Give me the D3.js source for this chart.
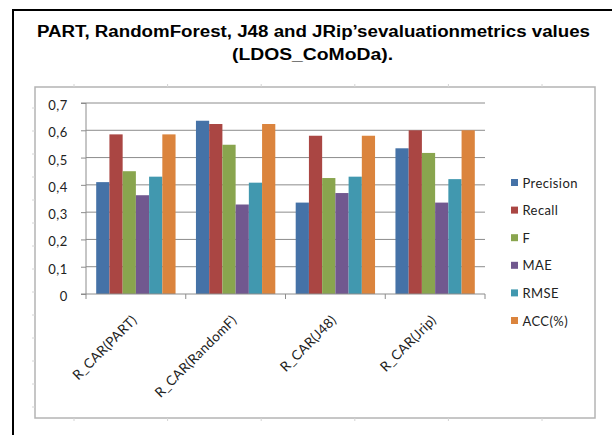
<!DOCTYPE html>
<html>
<head>
<meta charset="utf-8">
<script src="https://cdn.jsdelivr.net/npm/d3@7"></script>
<style>
  html, body { margin: 0; padding: 0; background: #fff; }
  svg { display: block; }
</style>
</head>
<body>
<svg id="chart" width="612" height="435"></svg>
<script>
// ---- data ----
const categories = ["R_CAR(PART)", "R_CAR(RandomF)", "R_CAR(J48)", "R_CAR(Jrip)"];
const seriesNames = ["Precision", "Recall", "F", "MAE", "RMSE", "ACC(%)"];
const precision = [0.41, 0.635, 0.335, 0.534];
const recall    = [0.585, 0.623, 0.58, 0.60];
const fValues   = [0.45, 0.547, 0.425, 0.517];
const mae       = [0.362, 0.328, 0.37, 0.335];
const rmse      = [0.43, 0.408, 0.43, 0.421];
const acc       = [0.585, 0.623, 0.58, 0.60];
const yTicks = [0, 0.1, 0.2, 0.3, 0.4, 0.5, 0.6, 0.7];
const yTickLabels = ["0", "0,1", "0,2", "0,3", "0,4", "0,5", "0,6", "0,7"];
const colors = ["#4572A7", "#AA4643", "#89A54E", "#71588F", "#4198AF", "#DB843D"];

const seriesValues = [precision, recall, fValues, mae, rmse, acc];

// ---- layout ----
const svg = d3.select("#chart");
const plot = { left: 86, right: 485, top: 103, bottom: 294 };
const axisFont = "Lato, 'Open Sans', sans-serif";

// outer black box (only left and top edges visible)
svg.append("line").attr("x1", 13).attr("y1", 10).attr("x2", 13).attr("y2", 435)
  .attr("stroke", "#000").attr("stroke-width", 2);
svg.append("line").attr("x1", 12).attr("y1", 10).attr("x2", 612).attr("y2", 10)
  .attr("stroke", "#000").attr("stroke-width", 2);

// title
const title = svg.append("g")
  .attr("font-family", "'Liberation Sans', Arial, sans-serif")
  .attr("font-weight", "bold")
  .attr("font-size", 16)
  .attr("fill", "#000");
title.append("text").attr("x", 37).attr("y", 37)
  .attr("textLength", 553).attr("lengthAdjust", "spacingAndGlyphs")
  .text("PART, RandomForest, J48 and JRip\u2019sevaluationmetrics values");
title.append("text").attr("x", 232).attr("y", 59.5)
  .attr("textLength", 161).attr("lengthAdjust", "spacingAndGlyphs")
  .text("(LDOS_CoMoDa).");

// inner chart frame
svg.append("rect").attr("x", 35).attr("y", 87).attr("width", 560).attr("height", 331)
  .attr("fill", "none").attr("stroke", "#b4b4b4").attr("stroke-width", 1.5);

// faint worksheet tick marks around frame
const deco = svg.append("g").attr("stroke", "#d4d4d4").attr("stroke-width", 1);
d3.range(6).forEach(i => {
  const x = 74 + i * 93.6;
  deco.append("line").attr("x1", x).attr("x2", x).attr("y1", 84).attr("y2", 87);
  deco.append("line").attr("x1", x).attr("x2", x).attr("y1", 418).attr("y2", 421);
});
d3.range(14).forEach(i => {
  const y = 108 + i * 23;
  deco.append("line").attr("x1", 32).attr("x2", 35).attr("y1", y).attr("y2", y);
});

// scales
const y = d3.scaleLinear().domain([0, 0.7]).range([plot.bottom, plot.top]);
const x0 = d3.scaleBand().domain(categories).range([plot.left, plot.right]).paddingInner(0).paddingOuter(0);
const groupPad = 10.2;
const x1 = d3.scaleBand().domain(seriesNames).range([groupPad, x0.bandwidth() - groupPad]).padding(0);

// gridlines
svg.append("g").selectAll("line").data(yTicks.slice(1)).join("line")
  .attr("x1", plot.left).attr("x2", plot.right)
  .attr("y1", d => y(d)).attr("y2", d => y(d))
  .attr("stroke", "#8c8c8c").attr("stroke-width", 1);

// bars
const groups = svg.append("g").selectAll("g").data(categories).join("g")
  .attr("transform", d => `translate(${x0(d)},0)`);
groups.selectAll("rect")
  .data((c, ci) => seriesNames.map((s, si) => ({ s, si, v: seriesValues[si][ci] })))
  .join("rect")
  .attr("x", d => x1(d.s))
  .attr("width", x1.bandwidth())
  .attr("y", d => y(d.v))
  .attr("height", d => y(0) - y(d.v))
  .attr("fill", d => colors[d.si]);

// y axis
const yAxis = d3.axisLeft(y).tickValues(yTicks)
  .tickFormat((d, i) => yTickLabels[i]).tickSize(5).tickPadding(13);
const gy = svg.append("g").attr("transform", `translate(${plot.left},0)`).call(yAxis);
gy.select(".domain").attr("stroke", "#8c8c8c").attr("d", `M-5,${plot.bottom}H0V${plot.top}H-5`);
gy.selectAll(".tick line").attr("stroke", "#8c8c8c");
gy.selectAll(".tick text").attr("font-family", axisFont).attr("font-size", 13)
  .attr("letter-spacing", 0.6).attr("dy", "0.5em").attr("fill", "#222");

// x axis
const boundaries = categories.map(c => x0(c)).concat([plot.right]);
const gx = svg.append("g");
gx.append("line").attr("x1", plot.left).attr("x2", plot.right)
  .attr("y1", plot.bottom).attr("y2", plot.bottom).attr("stroke", "#8c8c8c");
gx.selectAll("line.tk").data(boundaries).join("line").attr("class", "tk")
  .attr("x1", d => d).attr("x2", d => d)
  .attr("y1", plot.bottom).attr("y2", plot.bottom + 5).attr("stroke", "#8c8c8c");
gx.selectAll("text").data(categories).join("text")
  .attr("transform", d => `translate(${x0(d) + x0.bandwidth() / 2 + 2},${plot.bottom + 27}) rotate(-45)`)
  .attr("text-anchor", "end")
  .attr("font-family", axisFont).attr("font-size", 13.5).attr("letter-spacing", 0.3).attr("fill", "#222")
  .text(d => d);

// legend
const legend = svg.append("g");
const legendRows = legend.selectAll("g").data(seriesNames).join("g")
  .attr("transform", (d, i) => `translate(511,${183 + i * 27.6})`);
legendRows.append("rect").attr("x", 0).attr("y", -4).attr("width", 7).attr("height", 7)
  .attr("fill", (d, i) => colors[i]);
legendRows.append("text").attr("x", 11.5).attr("y", 4.5)
  .attr("font-family", axisFont).attr("font-size", 13).attr("letter-spacing", 0.4).attr("fill", "#222")
  .text(d => d);
</script>
</body>
</html>
